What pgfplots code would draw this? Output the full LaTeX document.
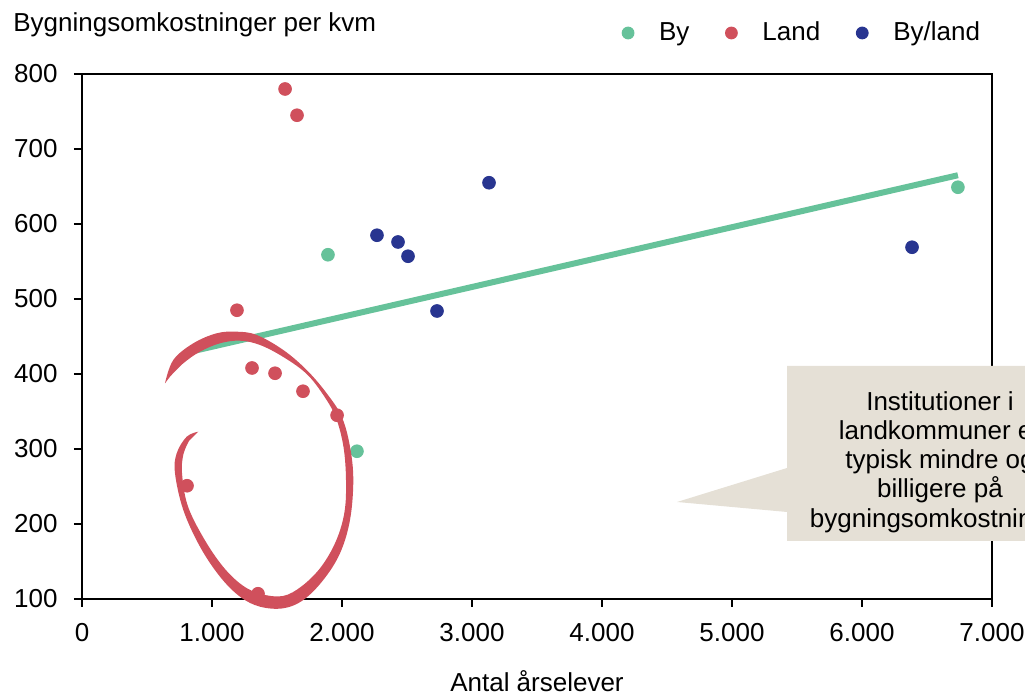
\documentclass[border=0pt]{standalone}
\usepackage{pgfplots}
\pgfplotsset{compat=1.18}
\usepackage{fontspec}
\setmainfont{Liberation Sans}
\definecolor{cBy}{HTML}{66C29A}
\definecolor{cLand}{HTML}{D0505C}
\definecolor{cMix}{HTML}{283590}
\definecolor{cNote}{HTML}{E5E0D6}

\begin{document}
\begin{tikzpicture}[font=\fontsize{13}{15.6}\selectfont]
\begin{axis}[
  scale only axis, width=455pt, height=262.5pt,
  xmin=0, xmax=7000, ymin=100, ymax=800,
  xtick={0,1000,...,7000}, ytick={100,200,...,800},
  axis line style={line width=1pt},
  tick style={line width=1pt, black},
  major tick length=4pt, tick align=outside,
  xtick pos=bottom, ytick pos=left,
  /pgf/number format/1000 sep={.},
  /pgf/number format/assume math mode=true,
  yticklabel style={inner sep=0pt, xshift=-8pt},
  xticklabel style={inner sep=0pt, yshift=-8pt},
  clip=false,
  title={Bygningsomkostninger per kvm},
  every axis title/.style={at={(axis description cs:0,1)}, anchor=base west,
    inner sep=0pt, xshift=-34.5pt, yshift=21pt},
  xlabel={Antal årselever},
  every axis x label/.style={at={(axis description cs:0.5,0)}, anchor=base,
    inner sep=0pt, yshift=-46.5pt},
  legend columns=3,
  legend style={draw=none, fill=none, inner sep=0pt, outer sep=0pt,
    at={(axis description cs:1,1)}, anchor=east, xshift=-6pt, yshift=20.5pt,
    nodes={inner sep=0pt},
    /tikz/every even column/.append style={column sep=17.8pt}},
  legend image code/.code={%
    \path[draw=none, fill=none] (-3.2pt,0) -- (15.5pt,0);
    \fill[#1, draw=none] (0,0) circle (3.2pt);},
]
\addplot[cBy, line width=3pt, forget plot] coordinates {(792,428) (6738,665)};

\addplot[only marks, mark=*, mark size=3.2pt, cBy, mark options={draw=none, fill=cBy}] coordinates {
  (1892,559) (2115,297) (6738,649)
};
\addplot[only marks, mark=*, mark size=3.2pt, cLand, mark options={draw=none, fill=cLand}] coordinates {
  (1562,780) (1654,745) (1192,485) (1308,408) (1485,401)
  (1700,377) (1962,345) (808,251) (1354,107)
};
\addplot[only marks, mark=*, mark size=3.2pt, cMix, mark options={draw=none, fill=cMix}] coordinates {
  (3131,655) (2269,585) (2431,576) (2508,557) (2731,484) (6385,569)
};
\legend{By, Land, By/land}
\end{axis}

\begin{scope}[x=0.5pt, y=-0.5pt, xshift=-41pt, yshift=299.5pt]
  % hand drawn ring round the rural schools
  \fill[cLand] plot[smooth, tension=0.6] coordinates {
    (165,383.3) (173.3,360) (193.3,343.3) (216.7,333.3) (236.7,331.7) (256.7,335)
    (283.3,350) (306.7,370) (326.7,393.3) (341.7,416.7) (350,446.7) (353.3,480)
    (350,520) (340,553.3) (323.3,580) (303.3,600) (283.3,608.3) (260,606.7)
    (240,596.7) (220,576.7) (200,546.7) (183.3,510) (175,473.3) (176.7,453.3)
    (186.7,436.7) (198.3,431.7)}
    -- plot[smooth, tension=0.6] coordinates {
    (189,441) (183.5,454) (182,473) (187.5,505) (203,537) (222.5,566)
    (242,585) (261,594) (283,596) (302,586) (321,567) (336,541)
    (344.5,512) (346,480) (343.5,447) (336,418) (324,396) (306.7,374)
    (283.3,357) (260,345) (240,340.7) (220,343.3) (200,351.7) (183.3,363.3)
    (170,376.7)} -- cycle;
  % callout
  \fill[cNote] (787,366) -- (1100,366) -- (1100,541) -- (787,541) -- (787,512)
    -- (677,502) -- (787,468) -- cycle;
  \node[align=center, anchor=north, inner sep=0pt, font=\fontsize{13}{14.6}\selectfont]
    at (940,391) {Institutioner i\\landkommuner er\\typisk mindre og\\billigere på\\bygningsomkostninger};
  \pgfresetboundingbox
  \path[use as bounding box] (0,0) rectangle (1025,695);
\end{scope}
\end{tikzpicture}
\end{document}
